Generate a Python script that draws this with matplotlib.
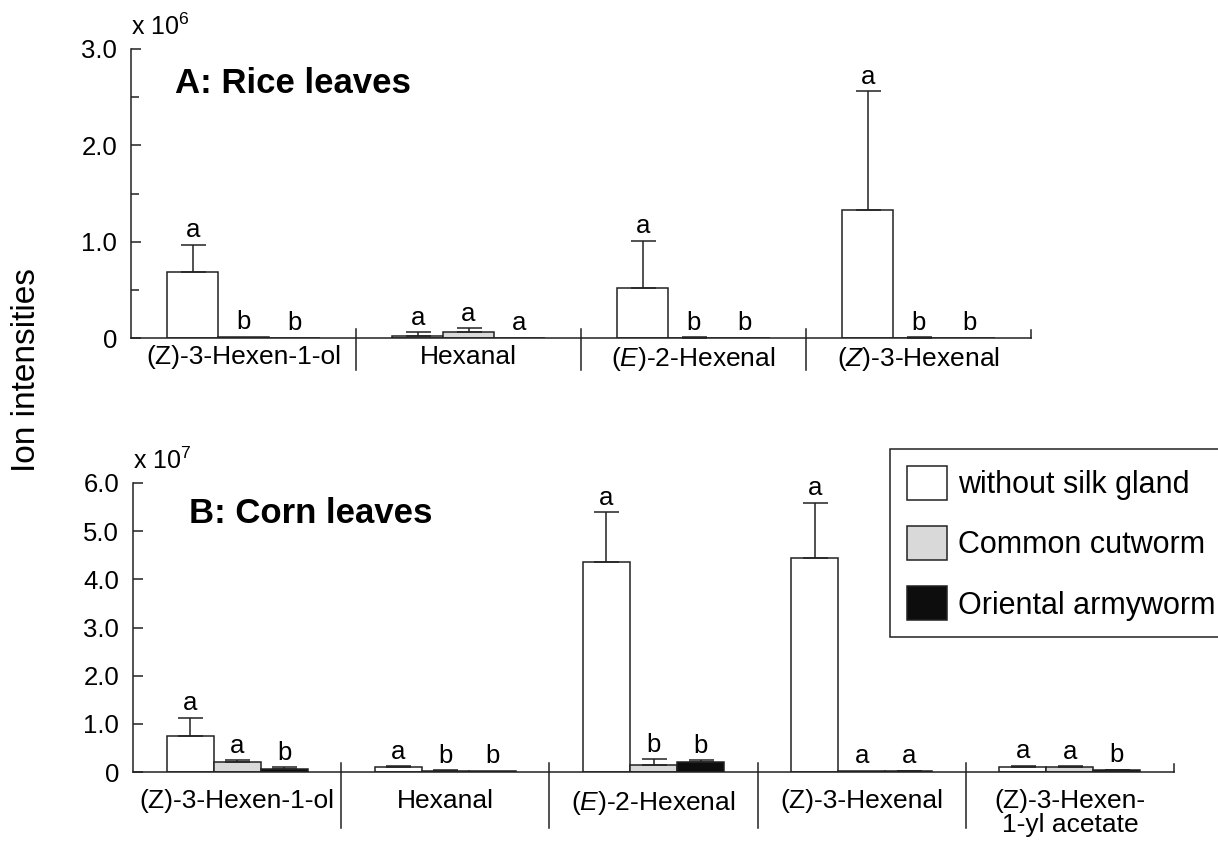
import numpy as np
import matplotlib
matplotlib.use("Agg")
import matplotlib.pyplot as plt
import matplotlib.transforms as mtransforms
from matplotlib.patches import Patch

plt.rcParams["font.family"] = ["Liberation Sans", "DejaVu Sans"]
plt.rcParams["mathtext.fontset"] = "custom"
plt.rcParams["mathtext.rm"] = "Liberation Sans"
plt.rcParams["mathtext.it"] = "Liberation Sans:italic"


#### Data ####

treatments = ["without silk gland", "Common cutworm", "Oriental armyworm"]
bar_colors = ["white", "#d9d9d9", "#0d0d0d"]

# A: rice leaves (x 10^6)
rice_compounds = ["(Z)-3-Hexen-1-ol", "Hexanal", "($\\it{E}$)-2-Hexenal", "($\\it{Z}$)-3-Hexenal"]
rice_white = [0.68, 0.02, 0.52, 1.33]
rice_white_err = [0.29, 0.04, 0.49, 1.23]
rice_gray = [0.01, 0.06, 0.004, 0.004]
rice_gray_err = [0.0, 0.04, 0.004, 0.004]
rice_black = [0.0, 0.0, 0.0, 0.0]
rice_black_err = [0.0, 0.0, 0.0, 0.0]
rice_letters = [["a", "b", "b"], ["a", "a", "a"], ["a", "b", "b"], ["a", "b", "b"]]

# B: corn leaves (x 10^7)
corn_compounds = ["(Z)-3-Hexen-1-ol", "Hexanal", "($\\it{E}$)-2-Hexenal", "(Z)-3-Hexenal",
                  "(Z)-3-Hexen-\n1-yl acetate"]
corn_white = [0.75, 0.10, 4.37, 4.44, 0.10]
corn_white_err = [0.37, 0.02, 1.02, 1.15, 0.03]
corn_gray = [0.21, 0.03, 0.14, 0.03, 0.10]
corn_gray_err = [0.03, 0.005, 0.12, 0.0, 0.02]
corn_black = [0.07, 0.02, 0.21, 0.02, 0.035]
corn_black_err = [0.03, 0.0, 0.03, 0.01, 0.01]
corn_letters = [["a", "a", "b"], ["a", "b", "b"], ["a", "b", "b"], ["a", "a", "a"], ["a", "a", "b"]]

line_col = "#222222"


def plot_panel(ax, compounds, means, errs, letters, yticks, ylabels, minor, exponent,
               title, title_xy, label_y, sep_span):
    n = len(compounds)
    centers = np.arange(n) + 0.5
    width = 0.226
    for i in range(3):
        xi = centers + (i - 1) * width
        m = np.array(means[i])
        e = np.array(errs[i])
        ax.bar(xi, m, width, color=bar_colors[i], edgecolor=line_col, linewidth=1.1, zorder=2)
        has = e > 0
        if has.any():
            ax.errorbar(xi[has], m[has], yerr=[np.zeros(has.sum()), e[has]], fmt="none",
                        ecolor=line_col, elinewidth=1.1, capsize=9, capthick=1.1, zorder=3)
        for xx, mm, ee, lab in zip(xi, m, e, [l[i] for l in letters]):
            ax.annotate(lab, (xx, mm + ee), xytext=(0, 5.5), textcoords="offset points",
                        ha="center", va="baseline", fontsize=18.5)

    ax.set_xlim(0, n)
    ax.set_ylim(yticks[0], yticks[-1])
    ax.set_yticks(yticks)
    ax.set_yticklabels(ylabels)
    if minor:
        ax.set_yticks(minor, minor=True)
    ax.tick_params(axis="y", which="major", direction="in", length=7, width=1.1,
                   pad=10, labelsize=18.5, color=line_col)
    ax.tick_params(axis="y", which="minor", direction="in", length=6, width=1.1, color=line_col)
    ax.set_xticks([])
    for side in ["top", "right"]:
        ax.spines[side].set_visible(False)
    for side in ["left", "bottom"]:
        ax.spines[side].set_linewidth(1.1)
        ax.spines[side].set_color(line_col)

    # group separators and category names
    trans = mtransforms.blended_transform_factory(ax.transData, ax.transAxes)
    for k in range(1, n):
        ax.plot([k, k], sep_span, transform=trans, clip_on=False, color=line_col, lw=1.1)
    ax.plot([n, n], [0, 0.028], transform=trans, clip_on=False, color=line_col, lw=1.1)
    for xc, name in zip(centers, compounds):
        ax.text(xc, label_y, name, transform=trans, ha="center", va="top",
                fontsize=19, linespacing=1.0)

    ax.text(0.0, 1.05, "x 10$^{%d}$" % exponent, transform=ax.transAxes,
            fontsize=18, ha="left", va="baseline")
    ax.text(title_xy[0], title_xy[1], title, transform=ax.transAxes,
            fontsize=25, fontweight="bold", ha="left", va="baseline")


fig = plt.figure(figsize=(12.18, 8.41), dpi=100)
ax1 = fig.add_axes([131 / 1218, 503 / 841, 900 / 1218, 289 / 841])
ax2 = fig.add_axes([133 / 1218, 69 / 841, 1041 / 1218, 289 / 841])

plot_panel(ax1, rice_compounds,
           [rice_white, rice_gray, rice_black],
           [rice_white_err, rice_gray_err, rice_black_err],
           rice_letters,
           [0, 1, 2, 3], ["0", "1.0", "2.0", "3.0"], [0.5, 1.5, 2.5], 6,
           "A: Rice leaves", (0.049, 0.848), -0.025, [0.031, -0.11])

plot_panel(ax2, corn_compounds,
           [corn_white, corn_gray, corn_black],
           [corn_white_err, corn_gray_err, corn_black_err],
           corn_letters,
           [0, 1, 2, 3, 4, 5, 6], ["0", "1.0", "2.0", "3.0", "4.0", "5.0", "6.0"], None, 7,
           "B: Corn leaves", (0.054, 0.862), -0.058, [0.031, -0.194])

fig.text(27 / 1218, 1 - 370 / 841, "Ion intensities", rotation=90, fontsize=24,
         ha="center", va="center")

handles = [Patch(facecolor=c, edgecolor=line_col, linewidth=1.1, label=t)
           for c, t in zip(bar_colors, treatments)]
leg = ax2.legend(handles=handles, loc="upper left",
                 bbox_to_anchor=(890 / 1218, 1 - 449 / 841), bbox_transform=fig.transFigure,
                 fontsize=22, handlelength=1.31, handleheight=1.34, labelspacing=0.85,
                 handletextpad=0.36, borderpad=0.55, borderaxespad=0, frameon=True,
                 fancybox=False, framealpha=1, edgecolor=line_col)
leg.get_frame().set_linewidth(1.1)

fig.savefig("out.png", dpi=100)
